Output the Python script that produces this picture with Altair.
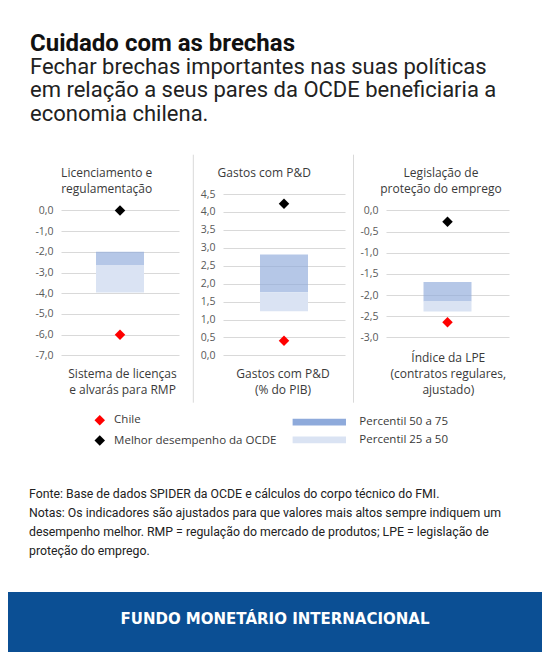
import altair as alt
import pandas as pd

# ---------------- data ----------------
panel_keys = ["rmp", "rd", "epl"]
top_titles = [
    ["Licenciamento e", "regulamentação"],
    ["Gastos com P&D"],
    ["Legislação de", "proteção do emprego"],
]
bottom_labels = [
    ["Sistema de licenças", "e alvarás para RMP"],
    ["Gastos com P&D", "(% do PIB)"],
    ["Índice da LPE", "(contratos regulares,", "ajustado)"],
]
chile = [-6.0, 0.41, -2.64]
best_oecd = [0.0, 4.23, -0.27]
pct75 = [-2.0, 2.81, -1.69]
pct50 = [-2.66, 1.76, -2.15]
pct25 = [-3.96, 1.23, -2.39]
y_ticks = [
    [0.0, -1.0, -2.0, -3.0, -4.0, -5.0, -6.0, -7.0],
    [0.0, 0.5, 1.0, 1.5, 2.0, 2.5, 3.0, 3.5, 4.0, 4.5],
    [0.0, -0.5, -1.0, -1.5, -2.0, -2.5, -3.0],
]
# plot areas share a common top; the two outer panels have some room above their top tick
y_domains = [[-7.0, 0.792], [0.0, 4.5], [-3.425, 0.387]]
point_series = ["Chile", "Melhor desempenho da OCDE"]
bar_series = ["Percentil 50 a 75", "Percentil 25 a 50"]

title_text = "Cuidado com as brechas"
subtitle_lines = [
    "Fechar brechas importantes nas suas políticas",
    "em relação a seus pares da OCDE beneficiaria a",
    "economia chilena.",
]
note_lines = [
    "Fonte: Base de dados SPIDER da OCDE e cálculos do corpo técnico do FMI.",
    "Notas: Os indicadores são ajustados para que valores mais altos sempre indiquem um",
    "desempenho melhor. RMP = regulação do mercado de produtos; LPE = legislação de",
    "proteção do emprego.",
]
footer_text = "FUNDO MONETÁRIO INTERNACIONAL"

# ---------------- styles / layout ----------------
XL_FONT = "Open Sans"
WEB_FONT = "Roboto"
TXT = "#3a3a3a"
TICK_TXT = "#595959"
GRID = "#d9d9d9"
SEP = "#d9d9d9"
BAND = "#0b4f94"
FULL_W = 534
PLOT_H = 161.4
RULE_TOP, RULE_BOT = -39.3, 208.7

layout = [
    dict(w=118, rules=[(-51.5, 0.0), (130.5, 0.0)], tx=45.7, bx=61.5, by=184.0),
    dict(w=122, rules=[(-29.7, 1.0), (130.5, 1.0)], tx=41.2, bx=60.0, by=184.0),
    dict(w=123, rules=[(-31.5, 0.0)], tx=55.0, bx=62.3, by=168.0),
]

label_expr = "replace(replace(format(datum.value, '.1f'), '.', ','), '\u2212', '-')"

color_legend = alt.Legend(
    orient="none", legendX=304.3, legendY=407.1, title=None,
    symbolType="M-4,-0.5L4,-0.5L4,0.5L-4,0.5Z", symbolSize=178,
    symbolStrokeWidth=0, labelFont=XL_FONT, labelFontSize=11.5, labelColor=TXT,
    labelOffset=33, rowPadding=4.7, labelLimit=300,
)
fill_legend = alt.Legend(
    orient="none", legendX=86, legendY=406.4, title=None,
    symbolType="diamond", symbolSize=110, symbolStrokeWidth=0,
    labelFont=XL_FONT, labelFontSize=11.5, labelColor=TXT,
    labelOffset=8.6, rowPadding=7.4, labelLimit=300,
)

dummy = pd.DataFrame({"d": [0]})


def make_panel(i):
    L = layout[i]
    key = panel_keys[i]
    bars = pd.DataFrame({
        "k": [key, key],
        "band": bar_series,
        "hi": [pct75[i], pct50[i]],
        "lo": [pct50[i], pct25[i]],
    })
    pts = pd.DataFrame({
        "k": [key, key],
        "series": point_series,
        "v": [chile[i], best_oecd[i]],
    })
    xenc = alt.X("k:N", axis=None, scale=alt.Scale(domain=[key]))
    yscale = alt.Scale(domain=y_domains[i], nice=False, zero=False)
    yaxis = alt.Axis(
        values=y_ticks[i], labelExpr=label_expr, title=None, grid=True,
        gridColor=GRID, gridWidth=1, domain=False, ticks=False, labelPadding=8,
        labelFont=XL_FONT, labelFontSize=10.5, labelColor=TICK_TXT,
    )
    bar_layer = alt.Chart(bars).mark_bar(width=48).encode(
        x=xenc,
        y=alt.Y("hi:Q", scale=yscale, axis=yaxis),
        y2="lo:Q",
        color=alt.Color("band:N", scale=alt.Scale(domain=bar_series, range=["#8eaadb", "#dae3f3"]),
                        legend=color_legend),
        opacity=alt.condition(alt.datum.band == bar_series[0], alt.value(0.66), alt.value(1.0)),
    )
    pt_layer = alt.Chart(pts).mark_point(shape="diamond", filled=True, size=110, opacity=1).encode(
        x=xenc,
        y=alt.Y("v:Q", scale=yscale, axis=yaxis),
        fill=alt.Fill("series:N", scale=alt.Scale(domain=point_series, range=["#ff0000", "#000000"]),
                      legend=fill_legend),
    )
    layers = []
    for rx, op in L["rules"]:
        layers.append(
            alt.Chart(dummy).mark_rule(color=SEP, strokeWidth=1, strokeOpacity=op).encode(
                x=alt.value(rx), y=alt.value(RULE_TOP), y2=alt.value(RULE_BOT)
            )
        )
    layers.append(
        alt.Chart(dummy).mark_text(font=XL_FONT, fontSize=12, color=TXT, align="center",
                                   baseline="alphabetic", lineHeight=16).encode(
            x=alt.value(L["tx"]), y=alt.value(-17.3), text=alt.value(top_titles[i])
        )
    )
    layers.append(
        alt.Chart(dummy).mark_text(font=XL_FONT, fontSize=12, color=TXT, align="center",
                                   baseline="alphabetic", lineHeight=16).encode(
            x=alt.value(L["bx"]), y=alt.value(L["by"]), text=alt.value(bottom_labels[i])
        )
    )
    return alt.layer(bar_layer, pt_layer, *layers).properties(width=L["w"], height=PLOT_H)


spacer = alt.Chart(dummy).mark_rule(strokeOpacity=0, strokeWidth=0).encode(
    x=alt.value(0), y=alt.value(0), y2=alt.value(1)
).properties(width=1, height=1)

panels = alt.hconcat(spacer, *[make_panel(i) for i in range(3)], spacing=0)

header = alt.layer(
    alt.Chart(dummy).mark_text(font=WEB_FONT, fontSize=24, fontWeight="bold", color="#111111",
                               align="left", baseline="alphabetic").encode(
        x=alt.value(22), y=alt.value(42.5), text=alt.value(title_text)
    ),
    alt.Chart(dummy).mark_text(font=WEB_FONT, fontSize=22, color="#222222", align="left",
                               baseline="alphabetic", lineHeight=23.3).encode(
        x=alt.value(22), y=alt.value(66), text=alt.value(subtitle_lines)
    ),
).properties(width=FULL_W, height=146)

notes = alt.Chart(dummy).mark_text(
    font=WEB_FONT, fontSize=12.3, color="#222222", align="left", baseline="alphabetic",
    lineHeight=19,
).encode(
    x=alt.value(21), y=alt.value(94), text=alt.value(note_lines)
).properties(width=FULL_W, height=188)

band = alt.Chart(dummy).mark_text(
    font="DejaVu Sans", fontSize=15, fontWeight="bold", color="#ffffff", align="center",
    baseline="alphabetic",
).encode(
    x=alt.value(267), y=alt.value(31.5), text=alt.value(footer_text)
).properties(width=FULL_W, height=60, view=alt.ViewBackground(fill=BAND, stroke=None))

chart = alt.vconcat(
    header, panels, notes, band, spacing=0,
).properties(
    padding={"left": 0, "top": 0, "right": 0, "bottom": 0}
).configure_view(stroke=None)

chart.save("out.html", embed_options={"renderer": "svg", "actions": False})
